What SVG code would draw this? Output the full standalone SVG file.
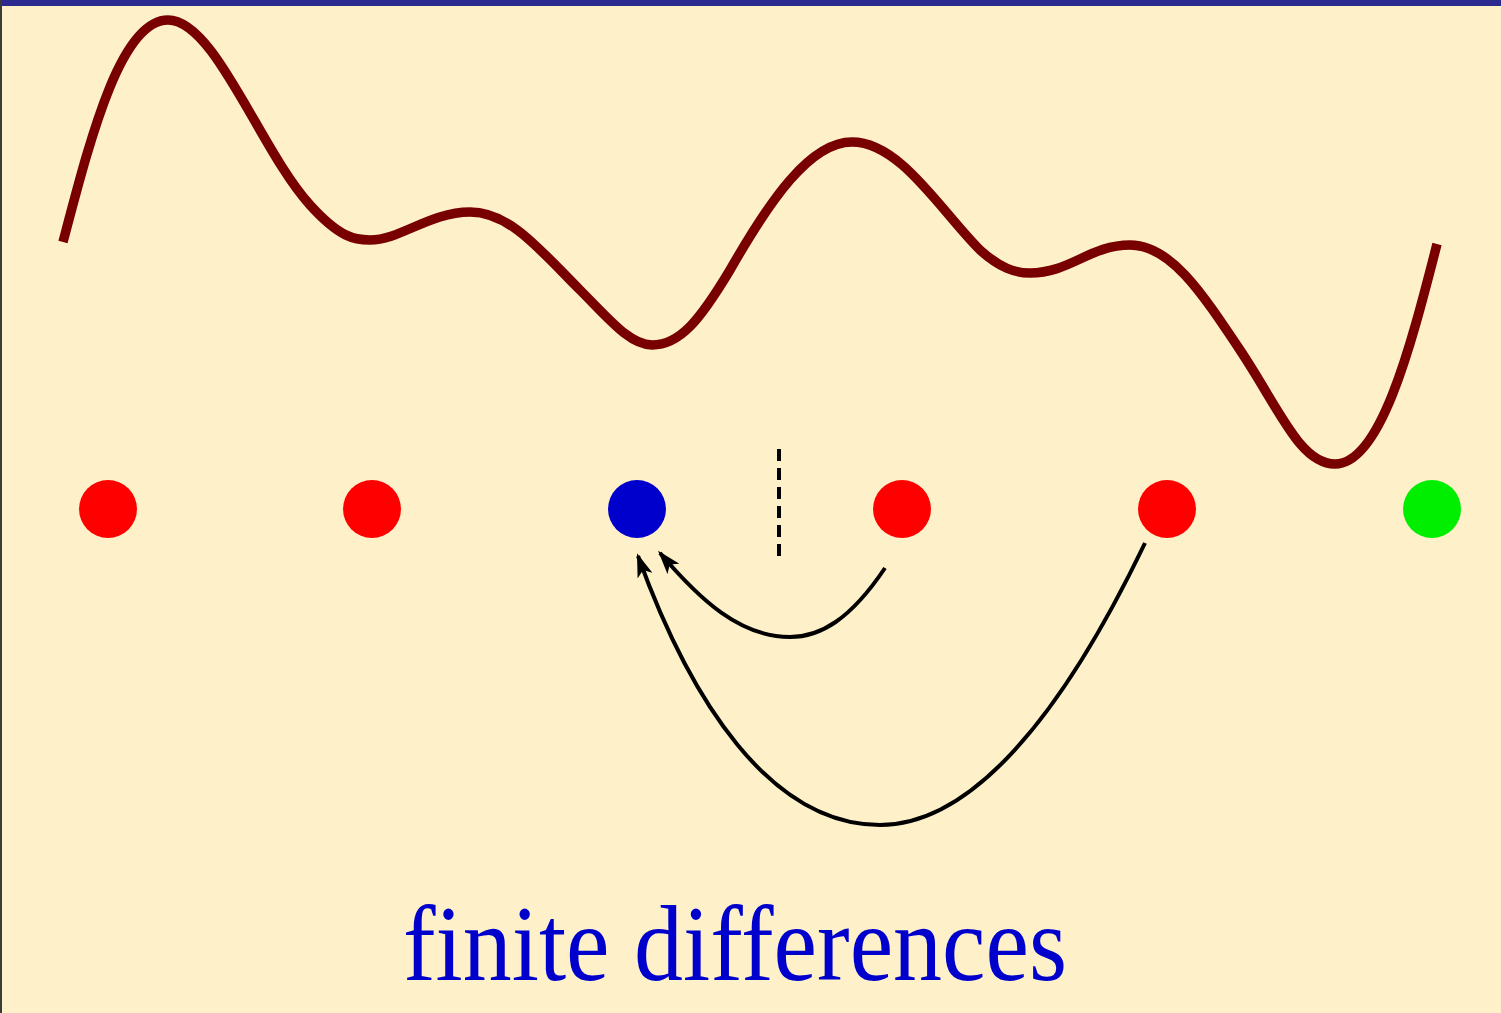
<svg xmlns="http://www.w3.org/2000/svg" width="1501" height="1013" viewBox="0 0 1501 1013">
<defs>
<style>
.node-red{fill:#ff0000}
.conn{fill:none;stroke:#000;stroke-width:4}
</style>
<marker id="ah" viewBox="0 0 24 16" refX="21" refY="8" markerWidth="24" markerHeight="16" markerUnits="userSpaceOnUse" orient="auto">
<path d="M0,0 L24,8 L0,16 L6,8 Z" fill="#000"/>
</marker>
</defs>
<rect width="1501" height="1013" fill="#fef0c9"/>
<rect width="1501" height="6" fill="#2b2b8f"/>
<rect x="0" y="0" width="2" height="1013" fill="#3a3a3a"/>
<path id="wave" d="M63,242 C90,140 120,20 168,20 C215,20 260,150 310,205 C340,238 355,240 370,240 C400,240 430,212 470,212 C510,212 540,250 580,290 C610,320 630,345 652,345 C680,345 700,320 730,270 C770,200 810,142 852,142 C900,142 940,210 980,250 C1000,268 1015,273 1030,273 C1070,273 1090,245 1130,245 C1170,245 1200,290 1240,350 C1280,410 1300,464 1335,464 C1380,464 1410,350 1437,244" fill="none" stroke="#780000" stroke-width="9.5"/>
<g id="n1"><circle cx="108" cy="509" r="29" class="node-red"/></g>
<g id="n2"><circle cx="372" cy="509" r="29" class="node-red"/></g>
<g id="n3"><circle cx="637" cy="509" r="29" fill="#0000cc"/></g>
<g id="n4"><circle cx="902" cy="509" r="29" class="node-red"/></g>
<g id="n5"><circle cx="1167" cy="509" r="29" class="node-red"/></g>
<g id="n6"><circle cx="1432" cy="509" r="29" fill="#00ee00"/></g>
<line x1="779" y1="449" x2="779" y2="557" stroke="#000" stroke-width="4" stroke-dasharray="12,7"/>
<g id="connectors">
<path class="conn" d="M885,568 C850,620 820,637 790,637 C740,637 700,600 660,553" marker-end="url(#ah)"/>
<path class="conn" d="M1145,543 C1060,720 970,825 880,825 C770,825 690,700 638,556" marker-end="url(#ah)"/>
</g>
<text x="403" y="980" font-family="'Liberation Serif', serif" font-size="108" fill="#0000cc" textLength="664" lengthAdjust="spacingAndGlyphs">finite differences</text>
</svg>
